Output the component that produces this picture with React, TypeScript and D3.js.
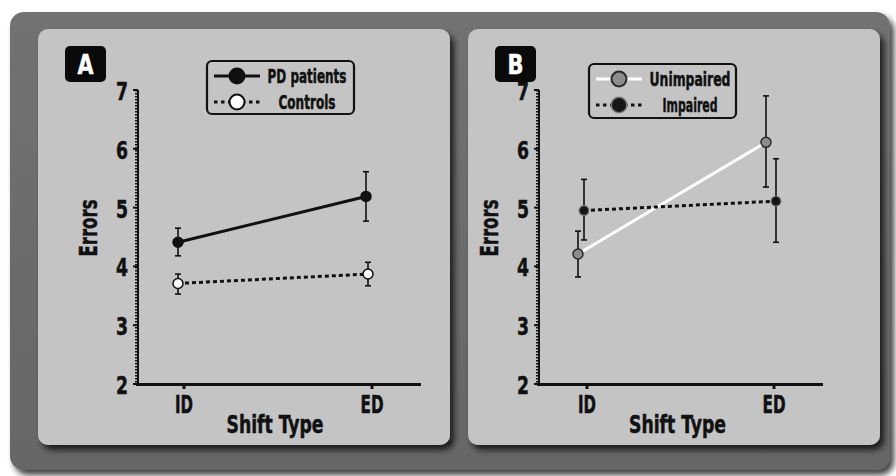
import React, { useRef, useEffect } from 'react';
import * as d3 from 'd3';

// categories and ticks
const shiftTypes = ['ID', 'ED'];
const yTicks = [2, 3, 4, 5, 6, 7];

// panel A: PD patients vs controls
const pdMean = [4.41, 5.19];
const pdLow = [4.18, 4.77];
const pdHigh = [4.65, 5.61];
const ctrlMean = [3.71, 3.87];
const ctrlLow = [3.53, 3.67];
const ctrlHigh = [3.87, 4.07];

// panel B: unimpaired vs impaired
const unimpMean = [4.21, 6.11];
const unimpLow = [3.82, 5.35];
const unimpHigh = [4.60, 6.90];
const impMean = [4.95, 5.11];
const impLow = [4.45, 4.41];
const impHigh = [5.48, 5.83];

const FONT = "'DejaVu Sans', sans-serif";

// widths of the condensed labels as measured on the original
const textWidths: Record<string, number> = {
  'PD patients': 79, 'Controls': 57, 'Unimpaired': 81, 'Impaired': 55,
  'ID': 18, 'ED': 23, 'Shift Type': 97, 'Errors': 57,
};

interface Series {
  name: string;
  mean: number[];
  low: number[];
  high: number[];
  line: string;
  dash: string | null;
  fill: string;
  stroke: string;
  halo?: boolean;
  shift: number[];
}

interface PanelCfg {
  letter: string;
  x: number;
  axisX: number;
  axisEnd: number;
  idX: number;
  edX: number;
  labelX: number;
  legend: { x: number; y: number; w: number; h: number; textX: number };
  series: Series[];
}

const panels: PanelCfg[] = [
  {
    letter: 'A', x: 38, axisX: 137, axisEnd: 421, idX: 184, edX: 372, labelX: 97,
    legend: { x: 207, y: 61, w: 147, h: 53, textX: 307 },
    series: [
      { name: 'PD patients', mean: pdMean, low: pdLow, high: pdHigh, line: '#111', dash: null, fill: '#111', stroke: '#111', shift: [-6, -6] },
      { name: 'Controls', mean: ctrlMean, low: ctrlLow, high: ctrlHigh, line: '#111', dash: '4,3', fill: '#fff', stroke: '#111', shift: [-6, -4] },
    ],
  },
  {
    letter: 'B', x: 468, axisX: 538, axisEnd: 823, idX: 587, edX: 774, labelX: 498,
    legend: { x: 589, y: 64, w: 147, h: 54, textX: 690 },
    series: [
      { name: 'Unimpaired', mean: unimpMean, low: unimpLow, high: unimpHigh, line: '#fff', dash: null, fill: '#8c8c8c', stroke: '#2a2a2a', shift: [-9, -8] },
      { name: 'Impaired', mean: impMean, low: impLow, high: impHigh, line: '#111', dash: '4,3', fill: '#161616', stroke: '#161616', halo: true, shift: [-3, 2] },
    ],
  },
];

type G = d3.Selection<SVGGElement, unknown, null, undefined>;

function label(g: G, x: number, y: number, txt: string | number, size: number, fill = '#111') {
  const t = g.append('text').attr('x', x).attr('y', y).attr('text-anchor', 'middle')
    .attr('fill', fill).attr('stroke', fill).attr('stroke-width', 0.5)
    .style('font-family', FONT).style('font-weight', 'bold')
    .style('font-stretch', 'condensed').style('font-size', `${size}px`).text(txt);
  const w = textWidths[String(txt)];
  if (w) t.attr('textLength', w).attr('lengthAdjust', 'spacingAndGlyphs');
  return t;
}

const App: React.FC = () => {
  const svgRef = useRef<SVGSVGElement>(null);

  useEffect(() => {
    document.body.style.margin = '0';
    if (!svgRef.current) return;
    const svg = d3.select(svgRef.current);
    svg.selectAll('*').remove();

    const defs = svg.append('defs');
    const sh = defs.append('filter').attr('id', 'panelShadow')
      .attr('x', '-10%').attr('y', '-10%').attr('width', '130%').attr('height', '130%');
    sh.append('feDropShadow').attr('dx', 4).attr('dy', 5).attr('stdDeviation', 3)
      .attr('flood-color', '#000').attr('flood-opacity', 0.75);
    const fr = defs.append('linearGradient').attr('id', 'frameGrad')
      .attr('x1', 0).attr('y1', 0).attr('x2', 0).attr('y2', 1);
    fr.append('stop').attr('offset', '0%').attr('stop-color', '#727272');
    fr.append('stop').attr('offset', '100%').attr('stop-color', '#666');

    // outer frame
    svg.append('rect').attr('x', 10).attr('y', 12).attr('width', 880).attr('height', 458)
      .attr('rx', 14).attr('fill', 'url(#frameGrad)').attr('filter', 'url(#panelShadow)');

    const y = d3.scaleLinear().domain([2, 7]).range([384, 90]);

    panels.forEach(p => {
      const g = svg.append('g') as unknown as G;
      g.append('rect').attr('x', p.x).attr('y', 29).attr('width', 412).attr('height', 416)
        .attr('rx', 10).attr('fill', '#c4c4c4').attr('filter', 'url(#panelShadow)');

      const x = d3.scalePoint<string>().domain(shiftTypes).range([p.idX, p.edX]);

      // panel letter
      g.append('rect').attr('x', p.x + 27).attr('y', 46).attr('width', 41).attr('height', 36)
        .attr('rx', 5).attr('fill', '#0a0a0a');
      label(g, p.x + 47.5, 74, p.letter, 26, '#fff').attr('textLength', 16).attr('lengthAdjust', 'spacingAndGlyphs');

      // y axis: ruler style
      g.append('line').attr('x1', p.axisX - 1).attr('x2', p.axisX - 1)
        .attr('y1', y(7)).attr('y2', y(2)).attr('stroke', '#111').attr('stroke-width', 2)
        .attr('stroke-dasharray', '1.5,1.5');
      g.append('line').attr('x1', p.axisX + 1).attr('x2', p.axisX + 1)
        .attr('y1', y(7)).attr('y2', y(2) + 1).attr('stroke', '#111').attr('stroke-width', 2);
      yTicks.forEach(t => {
        g.append('line').attr('x1', p.axisX - 4).attr('x2', p.axisX + 1)
          .attr('y1', y(t)).attr('y2', y(t)).attr('stroke', '#111').attr('stroke-width', 2);
        label(g, p.axisX - 15, y(t) + 10, t, 25).attr('textLength', 12).attr('lengthAdjust', 'spacingAndGlyphs');
      });

      // x axis
      g.append('line').attr('x1', p.axisX - 1).attr('x2', p.axisEnd).attr('y1', y(2) + 0.5).attr('y2', y(2) + 0.5)
        .attr('stroke', '#111').attr('stroke-width', 3);
      shiftTypes.forEach(c => {
        g.append('line').attr('x1', x(c)!).attr('x2', x(c)!).attr('y1', y(2)).attr('y2', y(2) + 5)
          .attr('stroke', '#111').attr('stroke-width', 3);
        label(g, x(c)!, y(2) + 29, c, 24);
      });
      label(g, (p.idX + p.edX) / 2 - 3, y(2) + 49, 'Shift Type', 24);
      label(g, 0, 0, 'Errors', 24).attr('transform', `translate(${p.labelX},228) rotate(-90)`);

      // series
      p.series.forEach(s => {
        const px = (i: number) => x(shiftTypes[i])! + s.shift[i];
        const line = d3.line<number>().x((_, i) => px(i)).y(d => y(d));
        g.append('path').attr('d', line(s.mean) || '').attr('fill', 'none')
          .attr('stroke', s.line).attr('stroke-width', 3)
          .attr('stroke-dasharray', s.dash);
        s.mean.forEach((_, i) => {
          g.append('line').attr('x1', px(i)).attr('x2', px(i)).attr('y1', y(s.low[i])).attr('y2', y(s.high[i]))
            .attr('stroke', '#111').attr('stroke-width', 1.6);
          [s.low[i], s.high[i]].forEach(v => {
            g.append('line').attr('x1', px(i) - 3).attr('x2', px(i) + 3).attr('y1', y(v)).attr('y2', y(v))
              .attr('stroke', '#111').attr('stroke-width', 1.6);
          });
        });
        s.mean.forEach((m, i) => {
          if (s.halo) {
            g.append('circle').attr('cx', px(i)).attr('cy', y(m)).attr('r', 5.5).attr('fill', '#777');
          }
          g.append('circle').attr('cx', px(i)).attr('cy', y(m)).attr('r', s.halo ? 4.3 : 5)
            .attr('fill', s.fill).attr('stroke', s.stroke).attr('stroke-width', s.halo ? 0 : 1.5);
        });
      });

      // legend
      const L = p.legend;
      const lg = g.append('g') as unknown as G;
      lg.append('rect').attr('x', L.x).attr('y', L.y).attr('width', L.w).attr('height', L.h)
        .attr('rx', 5).attr('fill', 'none').attr('stroke', '#111').attr('stroke-width', 2.2);
      p.series.forEach((s, i) => {
        const ry = L.y + 15 + i * 26;
        const mx = L.x + 30;
        lg.append('line').attr('x1', L.x + 7).attr('x2', L.x + 53).attr('y1', ry).attr('y2', ry)
          .attr('stroke', s.line).attr('stroke-width', 3).attr('stroke-dasharray', s.dash ? '3.5,3.5' : null);
        if (s.halo) {
          lg.append('circle').attr('cx', mx).attr('cy', ry).attr('r', 8.5).attr('fill', '#777');
          lg.append('circle').attr('cx', mx).attr('cy', ry).attr('r', 7).attr('fill', s.fill);
        } else {
          lg.append('circle').attr('cx', mx).attr('cy', ry).attr('r', 7.5)
            .attr('fill', s.fill).attr('stroke', s.stroke).attr('stroke-width', 2);
        }
        label(lg, L.textX, ry + 7, s.name, 19);
      });
    });
  }, []);

  return (
    <div>
      <svg ref={svgRef} width={896} height={476} style={{ display: 'block', background: '#fff' }}></svg>
    </div>
  );
};

export default App;
